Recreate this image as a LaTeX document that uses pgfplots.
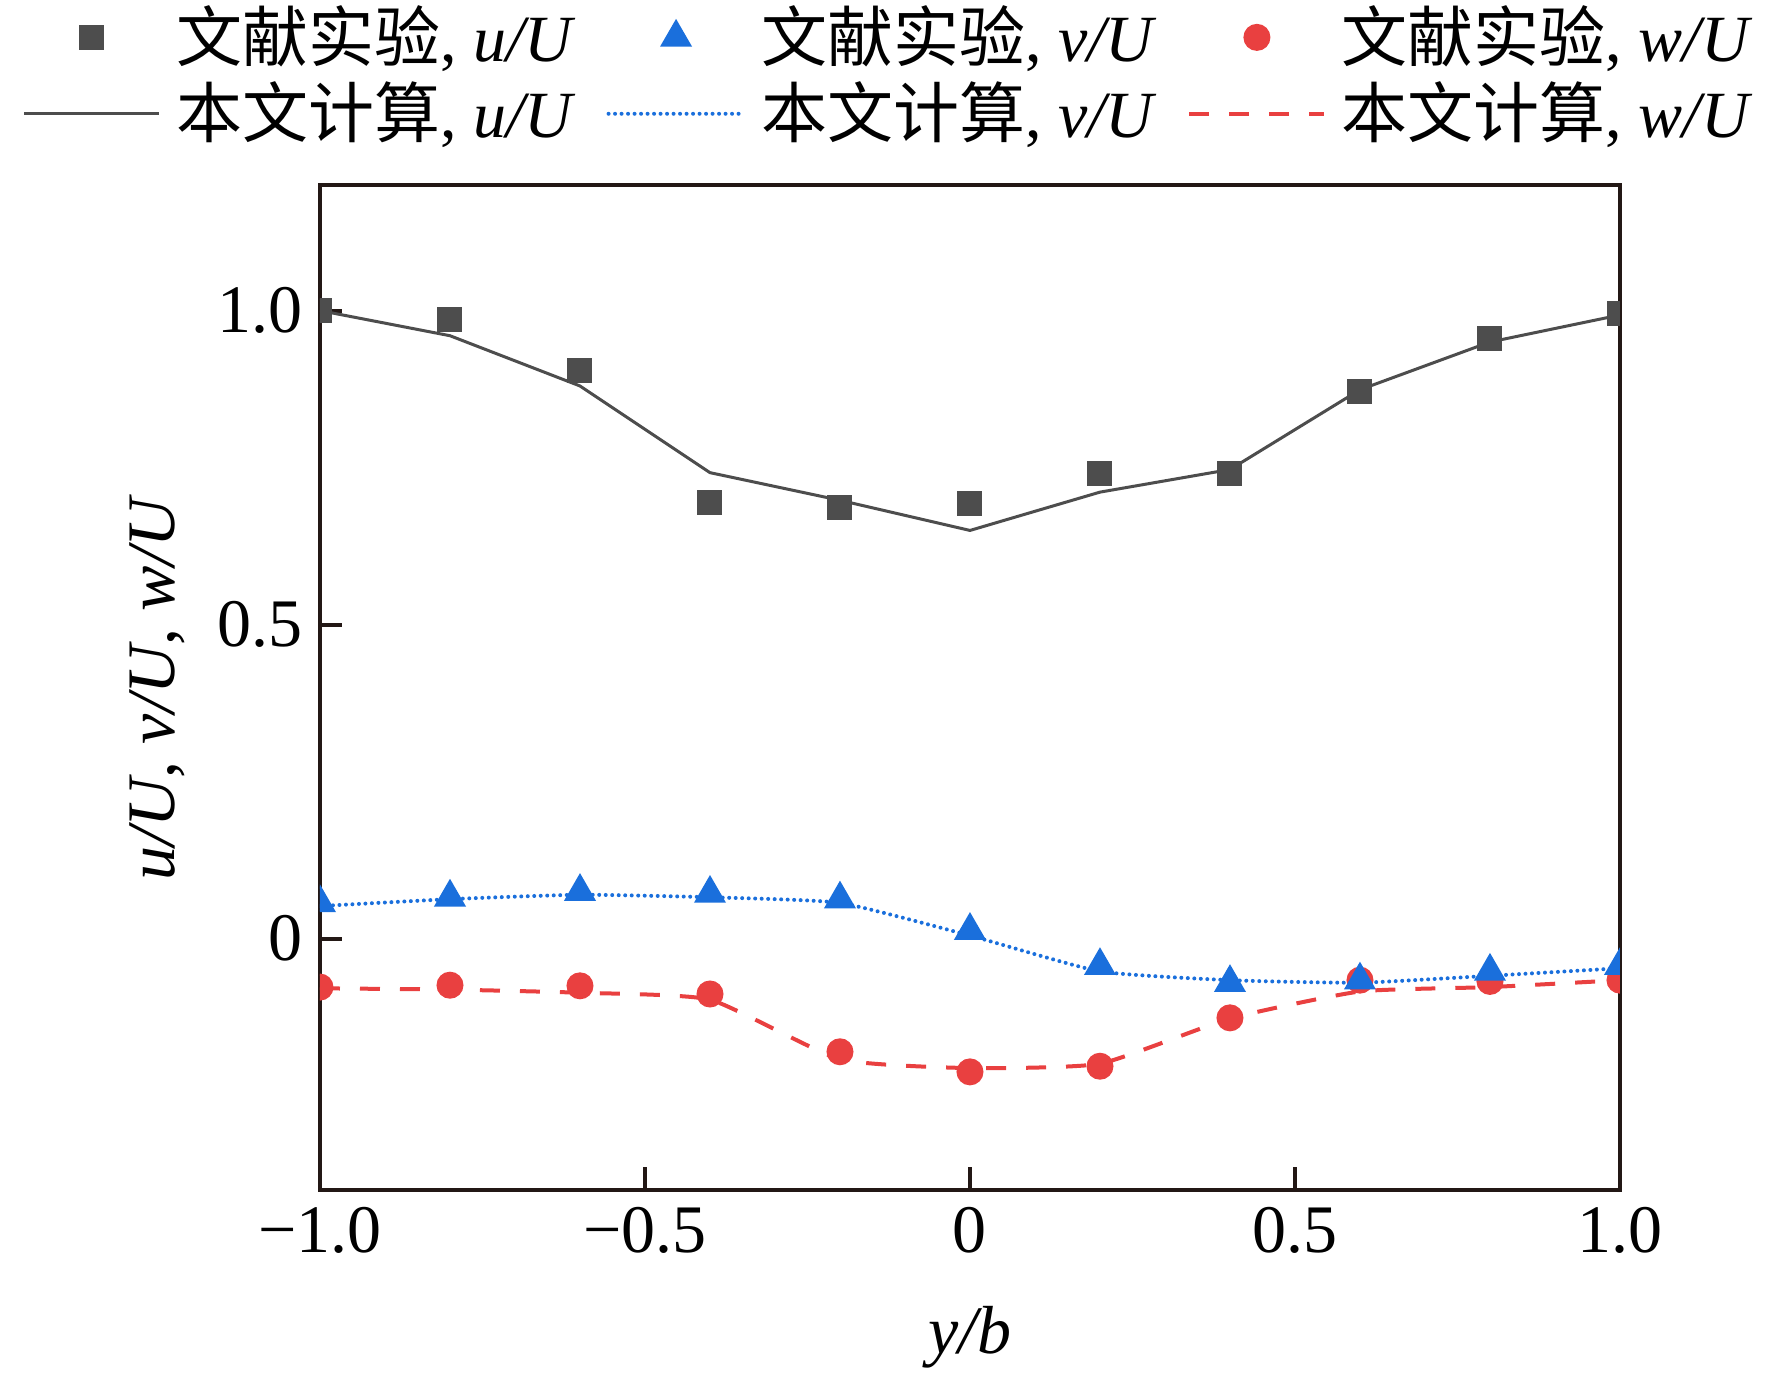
\documentclass[border=0pt]{standalone}
\usepackage{fontspec}
\setmainfont{Liberation Serif}
\newfontfamily\cjk{Noto Sans CJK SC}
\usepackage{pgfplots}
\pgfplotsset{compat=1.18}
\definecolor{cu}{HTML}{4D4D4D}
\definecolor{cv}{HTML}{1A6FDC}
\definecolor{cw}{HTML}{E94040}
\definecolor{axc}{HTML}{231815}
\begin{document}
\begin{tikzpicture}
\begin{axis}[
  scale only axis, width=260pt, height=201pt,
  xmin=-1, xmax=1, ymin=-0.4, ymax=1.2,
  axis line style={axc, line width=0.8pt},
  xtick={-1,-0.5,0,0.5,1}, xticklabels={−1.0,−0.5,0,0.5,1.0},
  ytick={0,0.5,1}, yticklabels={0,0.5,1.0},
  xtick pos=bottom, ytick pos=left, tick align=inside,
  major tick length=4.5pt,
  tick style={axc, line width=0.8pt},
  ticklabel style={font=\fontsize{13.6}{15}\selectfont},
  label style={font=\fontsize{13.6}{15}\selectfont},
  xlabel={\textit{y/b}},
  ylabel={\textit{u/U}, \textit{v/U}, \textit{w/U}},
  xlabel style={at={(axis description cs:0.5,-0.1627)}, anchor=base},
  ylabel style={at={(axis description cs:-0.112,0.5)}, anchor=base},
  clip marker paths=true,
  legend columns=3,
  legend cell align=left,
  legend image code/.code={\draw[mark repeat=2,mark phase=2,#1] plot coordinates {(0pt,0pt) (13.5pt,0pt) (27pt,0pt)};},
  legend style={draw=none, fill=none, inner sep=0pt, outer sep=0pt,
    at={(axis description cs:0,1)}, anchor=south west, xshift=-59.4pt, yshift=7.9pt,
    font=\fontsize{13.2}{15}\selectfont, nodes={inner sep=0pt}, row sep=2.6pt,
    /tikz/every odd column/.append style={column sep=3.1pt},
    /tikz/every even column/.append style={column sep=6.1pt}},
]
\addlegendimage{only marks, mark=square*, mark size=2.3pt, color=cu}
\addlegendentry{{\cjk 文献实验}, \textit{u/U}}
\addlegendimage{only marks, mark=triangle*, mark size=3.3pt, color=cv}
\addlegendentry{{\cjk 文献实验}, \textit{v/U}}
\addlegendimage{only marks, mark=*, mark size=2.5pt, color=cw}
\addlegendentry{{\cjk 文献实验}, \textit{w/U}}
\addlegendimage{cu, line width=0.6pt}
\addlegendentry{{\cjk 本文计算}, \textit{u/U}}
\addlegendimage{cv, line width=0.8pt, line cap=round, dash pattern=on 0pt off 1.3pt}
\addlegendentry{{\cjk 本文计算}, \textit{v/U}}
\addlegendimage{cw, line width=0.8pt, dash pattern=on 4pt off 4pt}
\addlegendentry{{\cjk 本文计算}, \textit{w/U}}

% experiments w
\addplot[forget plot, only marks, mark=*, mark size=2.5pt, color=cw] coordinates {
(-1,-0.077) (-0.8,-0.074) (-0.6,-0.075) (-0.4,-0.088) (-0.2,-0.180) (0,-0.212)
(0.2,-0.203) (0.4,-0.126) (0.6,-0.066) (0.8,-0.068) (1.0,-0.066)};
% experiments v
\addplot[forget plot, only marks, mark=triangle*, mark size=3.3pt, color=cv] coordinates {
(-1,0.057) (-0.8,0.066) (-0.6,0.075) (-0.4,0.072) (-0.2,0.063) (0,0.013)
(0.2,-0.043) (0.4,-0.070) (0.6,-0.066) (0.8,-0.052) (1.0,-0.043)};
% experiments u
\addplot[forget plot, only marks, mark=square*, mark size=2.3pt, color=cu] coordinates {
(-1,1.0) (-0.8,0.986) (-0.6,0.905) (-0.4,0.695) (-0.2,0.686) (0,0.693)
(0.2,0.740) (0.4,0.740) (0.6,0.871) (0.8,0.955) (1.0,0.996)};
% computed u
\addplot[forget plot, cu, line width=0.6pt, mark=none] coordinates {
(-1,1.0) (-0.8,0.960) (-0.6,0.880) (-0.4,0.742) (-0.2,0.698) (0,0.650)
(0.2,0.711) (0.4,0.747) (0.6,0.874) (0.8,0.950) (1.0,0.993)};
% computed v
\addplot[forget plot, cv, line width=0.8pt, line cap=round, dash pattern=on 0pt off 1.3pt, mark=none, smooth, tension=0.3] coordinates {
(-1,0.052) (-0.8,0.063) (-0.6,0.070) (-0.4,0.066) (-0.2,0.057) (0,0.005)
(0.2,-0.052) (0.4,-0.066) (0.6,-0.070) (0.8,-0.059) (1.0,-0.047)};
% computed w
\addplot[forget plot, cw, line width=0.8pt, dash pattern=on 4pt off 4pt, mark=none, smooth, tension=0.3] coordinates {
(-1,-0.079) (-0.8,-0.081) (-0.6,-0.086) (-0.4,-0.097) (-0.2,-0.192) (0,-0.206)
(0.2,-0.199) (0.4,-0.127) (0.6,-0.084) (0.8,-0.077) (1.0,-0.066)};
\end{axis}
\pgfresetboundingbox
\path[use as bounding box] (-64pt,-36.6pt) rectangle (290.4pt,238.0pt);
\end{tikzpicture}
\end{document}
